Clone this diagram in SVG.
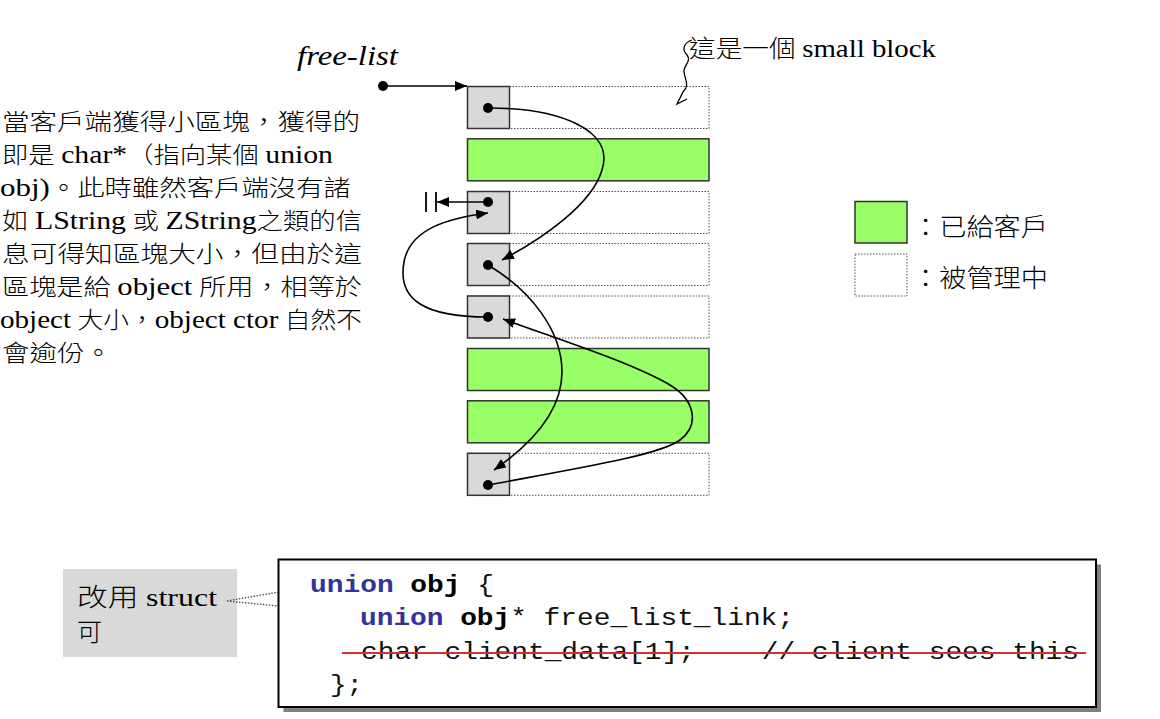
<svg xmlns="http://www.w3.org/2000/svg" width="1160" height="719" viewBox="0 0 1160 719">
<defs>
<marker id="arr" viewBox="0 0 12 10" refX="12" refY="5" markerWidth="12" markerHeight="10" markerUnits="userSpaceOnUse" orient="auto">
<path d="M0,0 L12,5 L0,10 Z" fill="#000"/>
</marker>
<style>
.cjk{font-family:"Liberation Serif","Noto Sans CJK TC",serif;fill:#000;font-weight:300}
.lat{font-size:26px}
.mono{font-family:"Liberation Mono",monospace;font-size:24px;fill:#111}
.kw{fill:#333399;font-weight:bold}
.b{font-weight:bold;fill:#000}
.free{fill:#fff;stroke:#555;stroke-width:1;stroke-dasharray:1.5 1.5}
.used{fill:#99ff66;stroke:#333;stroke-width:1.5}
.head{fill:#d9d9d9;stroke:#333;stroke-width:1.5}
.link{fill:none;stroke:#000;stroke-width:1.6}
.dot{fill:#000}
.lead{fill:none;stroke:#444;stroke-width:1.3;stroke-dasharray:1.5 1.5}
</style>
</defs>
<rect width="1160" height="719" fill="#fff"/>

<g id="title-freelist">
<text x="297" y="65" class="cjk" font-size="28" font-style="italic" textLength="101" lengthAdjust="spacingAndGlyphs">free-list</text>
</g>

<g id="explanation">
<text x="2" y="130" class="cjk" font-size="23" textLength="358" lengthAdjust="spacingAndGlyphs">當客戶端獲得小區塊，獲得的</text>
<text x="2" y="163" class="cjk" font-size="23" textLength="331" lengthAdjust="spacingAndGlyphs">即是 <tspan class="lat">char*</tspan>（指向某個 <tspan class="lat">union</tspan></text>
<text x="0" y="196" class="cjk" font-size="23" textLength="351" lengthAdjust="spacingAndGlyphs"><tspan class="lat">obj)</tspan>。此時雖然客戶端沒有諸</text>
<text x="2" y="229" class="cjk" font-size="23" textLength="360" lengthAdjust="spacingAndGlyphs">如 <tspan class="lat">LString</tspan> 或 <tspan class="lat">ZString</tspan>之類的信</text>
<text x="2" y="262" class="cjk" font-size="23" textLength="360" lengthAdjust="spacingAndGlyphs">息可得知區塊大小，但由於這</text>
<text x="2" y="295" class="cjk" font-size="23" textLength="360" lengthAdjust="spacingAndGlyphs">區塊是給 <tspan class="lat">object</tspan> 所用，相等於</text>
<text x="0" y="328" class="cjk" font-size="23" textLength="362" lengthAdjust="spacingAndGlyphs"><tspan class="lat">object</tspan> 大小，<tspan class="lat">object ctor</tspan> 自然不</text>
<text x="2" y="361" class="cjk" font-size="23" textLength="110" lengthAdjust="spacingAndGlyphs">會逾份。</text>
</g>

<g id="block1"><rect class="free" x="467.5" y="86.5" width="241.5" height="42"/><rect class="head" x="467.5" y="86.5" width="42" height="42"/><circle class="dot" cx="488" cy="108" r="5"/></g>
<g id="block2"><rect class="used" x="467.5" y="138.8" width="241.5" height="42"/></g>
<g id="block3"><rect class="free" x="467.5" y="191.5" width="241.5" height="42"/><rect class="head" x="467.5" y="191.5" width="42" height="42"/><circle class="dot" cx="488" cy="202" r="5"/></g>
<g id="block4"><rect class="free" x="467.5" y="243.5" width="241.5" height="42"/><rect class="head" x="467.5" y="243.5" width="42" height="42"/><circle class="dot" cx="488" cy="265" r="5"/></g>
<g id="block5"><rect class="free" x="467.5" y="296" width="241.5" height="42"/><rect class="head" x="467.5" y="296" width="42" height="42"/><circle class="dot" cx="488" cy="317" r="5"/></g>
<g id="block6"><rect class="used" x="467.5" y="348.5" width="241.5" height="42"/></g>
<g id="block7"><rect class="used" x="467.5" y="400.8" width="241.5" height="42"/></g>
<g id="block8"><rect class="free" x="467.5" y="453.3" width="241.5" height="42"/><rect class="head" x="467.5" y="453.3" width="42" height="42"/><circle class="dot" cx="488" cy="485" r="5"/></g>

<g id="note-smallblock">
<path d="M692,40 C683,43 682,50 687,55 C692,61 683,66 684,72 C685,80 690,85 683,92 L677,104 L687,99" fill="none" stroke="#000" stroke-width="1.3"/>
<text x="689" y="57" class="cjk" font-size="24" textLength="247" lengthAdjust="spacingAndGlyphs">這是一個 <tspan class="lat">small block</tspan></text>
</g>

<g id="connectors">
<circle class="dot" cx="383" cy="86" r="5"/>
<path class="link" d="M383,86 H467" marker-end="url(#arr)"/>
<path class="link" d="M488,108 C560,108 615,130 602,170 C592,205 540,240 502,260" marker-end="url(#arr)"/>
<path class="link" d="M488,265 C530,290 562,330 562,372 C562,412 530,445 494,470" marker-end="url(#arr)"/>
<path class="link" d="M488,485 C580,468 660,455 680,440 C700,425 695,400 670,385 C630,362 560,340 503,319" marker-end="url(#arr)"/>
<path class="link" d="M488,317 C425,317 397,300 404,262 C410,228 450,218 488,213" marker-end="url(#arr)"/>
<path class="link" d="M488,202 H437" marker-end="url(#arr)"/>
<path d="M426,192 V212 M436,192 V212" stroke="#000" stroke-width="1.8" fill="none"/>
</g>

<g id="legend">
<rect class="used" x="855" y="201.5" width="52" height="41.5"/>
<text x="912" y="236" class="cjk" font-size="25" textLength="136" lengthAdjust="spacingAndGlyphs">：已給客戶</text>
<rect class="free" x="855" y="254" width="52" height="42"/>
<text x="912" y="287" class="cjk" font-size="25" textLength="136" lengthAdjust="spacingAndGlyphs">：被管理中</text>
</g>

<g id="note-struct">
<rect x="63" y="569" width="174" height="88" fill="#d9d9d9"/>
<text x="77" y="606" class="cjk" font-size="25" textLength="140" lengthAdjust="spacingAndGlyphs">改用 <tspan class="lat">struct</tspan></text>
<text x="77" y="641" class="cjk" font-size="25">可</text>
<path class="lead" d="M227,601 L302,588 M227,601 L340,612"/>
</g>

<g id="code">
<rect x="283.5" y="564.5" width="817.5" height="147.5" fill="#808080"/>
<rect x="278.5" y="559.5" width="817.5" height="147.5" fill="#fff" stroke="#000" stroke-width="2"/>
<text x="310" y="592" class="mono" textLength="184" lengthAdjust="spacingAndGlyphs" xml:space="preserve"><tspan class="kw">union</tspan> <tspan class="b">obj</tspan> {</text>
<text x="360" y="625" class="mono" textLength="434" lengthAdjust="spacingAndGlyphs" xml:space="preserve"><tspan class="kw">union</tspan> <tspan class="b">obj</tspan>* free_list_link;</text>
<text x="361" y="659" class="mono" textLength="718" lengthAdjust="spacingAndGlyphs" xml:space="preserve">char client_data[1];    // client sees this</text>
<line x1="342" y1="653" x2="1086" y2="653" stroke="#cc3333" stroke-width="2"/>
<text x="330" y="692" class="mono" textLength="33" lengthAdjust="spacingAndGlyphs">};</text>
</g>
</svg>
